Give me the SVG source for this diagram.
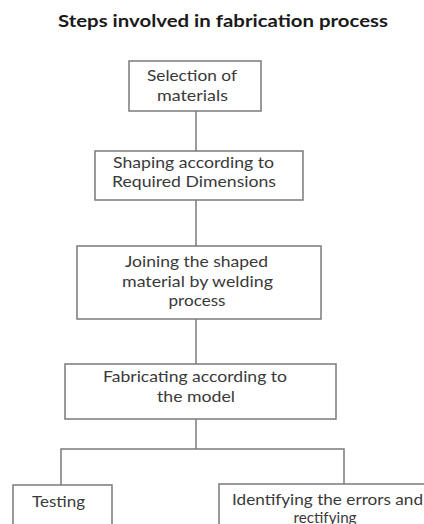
<svg xmlns="http://www.w3.org/2000/svg" width="424" height="524" viewBox="0 0 424 524">
<style>
.box{fill:#fff;stroke:#7a7a7a;stroke-width:1.5}
.con{fill:none;stroke:#7a7a7a;stroke-width:1.5}
text{font-family:Lato,"Open Sans","Liberation Sans",sans-serif;fill:#3a3a3a;text-anchor:middle}
.t{font-size:16px}
.title{font-size:17px;font-weight:bold;fill:#1a1a1a}
</style>
<rect width="424" height="524" fill="#fff"/>
<text class="title" x="223" y="27" textLength="330" lengthAdjust="spacingAndGlyphs">Steps involved in fabrication process</text>
<g id="connectors">
<line class="con" x1="196" y1="111" x2="196" y2="151"/>
<line class="con" x1="196" y1="200" x2="196" y2="246"/>
<line class="con" x1="196" y1="319" x2="196" y2="364"/>
<polyline class="con" points="61,485 61,449 344,449 344,484"/>
<line class="con" x1="196" y1="419" x2="196" y2="449"/>
</g>
<g id="n1">
<rect class="box" x="129" y="61" width="132" height="50"/>
<text class="t" x="192" y="81" textLength="90" lengthAdjust="spacingAndGlyphs">Selection of</text>
<text class="t" x="192.5" y="101" textLength="71" lengthAdjust="spacingAndGlyphs">materials</text>
</g>
<g id="n2">
<rect class="box" x="95" y="151" width="208" height="49"/>
<text class="t" x="193.5" y="168" textLength="161" lengthAdjust="spacingAndGlyphs">Shaping according to</text>
<text class="t" x="194" y="187" textLength="164" lengthAdjust="spacingAndGlyphs">Required Dimensions</text>
</g>
<g id="n3">
<rect class="box" x="77" y="246" width="244" height="73"/>
<text class="t" x="196.5" y="267" textLength="143" lengthAdjust="spacingAndGlyphs">Joining the shaped</text>
<text class="t" x="197.5" y="287" textLength="151" lengthAdjust="spacingAndGlyphs">material by welding</text>
<text class="t" x="197" y="306" textLength="57" lengthAdjust="spacingAndGlyphs">process</text>
</g>
<g id="n4">
<rect class="box" x="65" y="364" width="271" height="55"/>
<text class="t" x="195" y="382" textLength="184" lengthAdjust="spacingAndGlyphs">Fabricating according to</text>
<text class="t" x="196" y="402" textLength="78" lengthAdjust="spacingAndGlyphs">the model</text>
</g>
<g id="n5">
<rect class="box" x="13" y="485" width="99" height="50"/>
<text class="t" x="58.5" y="507" textLength="53" lengthAdjust="spacingAndGlyphs">Testing</text>
</g>
<g id="n6">
<rect class="box" x="219" y="484" width="220" height="50"/>
<text class="t" x="327.5" y="505" textLength="191" lengthAdjust="spacingAndGlyphs">Identifying the errors and</text>
<text class="t" x="325" y="523" textLength="63" lengthAdjust="spacingAndGlyphs">rectifying</text>
</g>
</svg>
